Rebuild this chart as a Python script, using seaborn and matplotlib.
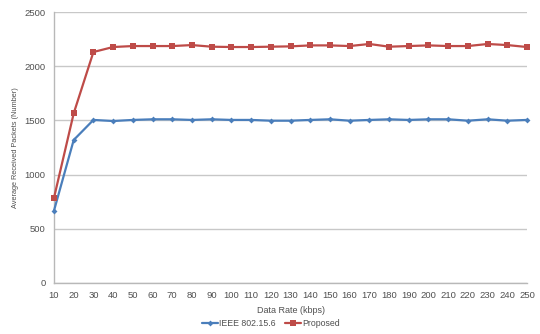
import numpy as np
import pandas as pd
import matplotlib
matplotlib.use("Agg")
import matplotlib.pyplot as plt
import seaborn as sns

# Data rate (kbps) on the x axis
data_rate = [10, 20, 30, 40, 50, 60, 70, 80, 90, 100, 110, 120, 130,
             140, 150, 160, 170, 180, 190, 200, 210, 220, 230, 240, 250]

# Average received packets for each scheme
ieee_802156 = [667, 1319, 1504, 1494, 1504, 1510, 1510, 1504, 1510, 1504, 1504, 1497, 1497,
               1504, 1510, 1497, 1504, 1510, 1504, 1510, 1510, 1497, 1510, 1497, 1504]
proposed = [785, 1565, 2131, 2177, 2186, 2186, 2186, 2195, 2180, 2177, 2177, 2180, 2183,
            2192, 2192, 2186, 2205, 2180, 2186, 2192, 2186, 2186, 2205, 2195, 2177]

series_names = ["IEEE 802.15.6", "Proposed"]
y_ticks = [0, 500, 1000, 1500, 2000, 2500]

df = pd.DataFrame({
    "Data Rate (kbps)": data_rate * 2,
    "Packets": ieee_802156 + proposed,
    "Scheme": [series_names[0]] * len(data_rate) + [series_names[1]] * len(data_rate),
})

sns.set_style("white")
plt.rcParams["font.family"] = ["Liberation Sans", "DejaVu Sans"]

text_color = "#505050"
grid_color = "#c8c8c8"
palette = {series_names[0]: "#4a7ebb", series_names[1]: "#be4b48"}

fig = plt.figure(figsize=(5.4, 3.34), dpi=100)
ax = fig.add_axes([0.100, 0.153, 0.876, 0.811])

sns.lineplot(data=df, x="Data Rate (kbps)", y="Packets", hue="Scheme", style="Scheme",
             palette=palette, markers={series_names[0]: "D", series_names[1]: "s"},
             dashes=False, linewidth=1.6, markersize=4, markeredgewidth=0,
             ax=ax, legend=False)
# smaller diamonds for the first series; let end markers spill over the axes edge
ax.lines[0].set_markersize(3)
for ln in ax.lines:
    ln.set_clip_on(False)
    ln.set_zorder(3)

ax.set_xlim(10, 250)
ax.set_ylim(0, 2500)
ax.set_xticks(data_rate)
ax.set_yticks(y_ticks)
ax.yaxis.grid(True, color=grid_color, linewidth=1)
ax.xaxis.grid(False)
ax.set_axisbelow(True)

for side in ["top", "right"]:
    ax.spines[side].set_visible(False)
for side in ["left", "bottom"]:
    ax.spines[side].set_color("#b8b8b8")
    ax.spines[side].set_linewidth(1)

ax.tick_params(axis="x", which="both", direction="out", length=4, width=1,
               color="#b8b8b8", labelsize=6.8, labelcolor=text_color, pad=2)
ax.tick_params(axis="y", which="both", direction="out", length=4, width=1,
               color="#b8b8b8", labelsize=6.8, labelcolor=text_color, pad=2)

ax.set_xlabel("Data Rate (kbps)", fontsize=6.5, color=text_color, labelpad=4)
ax.set_ylabel("Average Received Packets (Number)", fontsize=5.3, color=text_color, labelpad=4)

handles = [
    plt.Line2D([], [], color=palette[series_names[0]], marker="D", markersize=3,
               markeredgewidth=0, linewidth=1.6),
    plt.Line2D([], [], color=palette[series_names[1]], marker="s", markersize=4,
               markeredgewidth=0, linewidth=1.6),
]
leg = fig.legend(handles, series_names, loc="lower center", bbox_to_anchor=(0.502, 0.0),
                 ncol=2, frameon=False, fontsize=6.3, handlelength=1.8, handletextpad=0.15,
                 columnspacing=1.1, borderaxespad=0.3)
for t in leg.get_texts():
    t.set_color(text_color)

fig.savefig("out.png", dpi=100)
